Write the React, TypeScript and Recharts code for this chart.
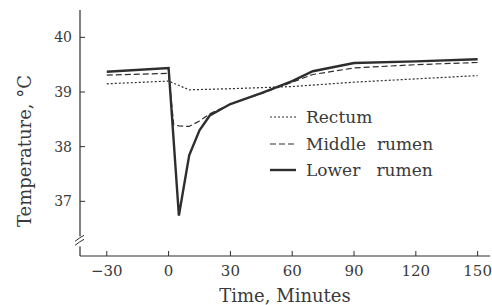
import React from "react";
import { LineChart, Line, XAxis, YAxis, Legend } from "recharts";

const times = [-30, 0, 2.5, 5, 10, 15, 20, 30, 45, 60, 70, 90, 120, 150];
const rectum = [39.15, 39.2, null, null, 39.04, null, null, 39.06, null, 39.1, null, 39.18, 39.24, 39.3];
const middleRumen = [39.31, 39.34, 38.4, 38.38, 38.37, 38.47, 38.6, 38.78, 38.97, 39.18, 39.32, 39.44, 39.5, 39.54];
const lowerRumen = [39.37, 39.44, null, 36.74, 37.84, 38.3, 38.57, 38.78, 38.98, 39.2, 39.38, 39.53, 39.56, 39.6];
const xTicks = [-30, 0, 30, 60, 90, 120, 150];
const yTicks = [36.25, 37, 38, 39, 40];
const BREAK_TICK = 36.25;

const data = times.map((t, i) => ({
  t,
  rectum: rectum[i],
  middle: middleRumen[i],
  lower: lowerRumen[i],
}));

const INK = "#2e2e2e";
const TEXT = "#3a3a3a";
const FONT = "'DejaVu Serif', 'Liberation Serif', serif";

const legendItems = [
  { label: "Rectum", dash: "2 2", width: 1.2 },
  { label: "Middle  rumen", dash: "6 3", width: 1.2 },
  { label: "Lower   rumen", dash: undefined, width: 2.4 },
];

const LegendContent = () => (
  <div style={{ fontFamily: FONT, fontSize: 17, color: TEXT }}>
    {legendItems.map((it) => (
      <div key={it.label} style={{ display: "flex", alignItems: "center", height: 26.5 }}>
        <svg width={36} height={10}>
          <line x1={0} y1={5} x2={26} y2={5} stroke={INK} strokeWidth={it.width} strokeDasharray={it.dash} />
        </svg>
        <span style={{ whiteSpace: "pre" }}>{it.label}</span>
      </div>
    ))}
  </div>
);

const YTick = (props: any) => {
  const { x, y, payload } = props;
  const ax = x + 8;
  if (payload.value === BREAK_TICK) {
    return (
      <g>
        <rect x={ax - 3} y={y - 6} width={6} height={10} fill="#fff" />
        <path d={`M${ax - 5} ${y - 1} Q${ax} ${y - 5} ${ax + 4} ${y - 7}`} stroke={INK} fill="none" strokeWidth={1} />
        <path d={`M${ax - 5} ${y + 3} Q${ax} ${y - 1} ${ax + 4} ${y - 3}`} stroke={INK} fill="none" strokeWidth={1} />
      </g>
    );
  }
  return (
    <g>
      <line x1={ax} y1={y} x2={ax + 5} y2={y} stroke={INK} strokeWidth={1} />
      <text x={x} y={y} dy="0.36em" textAnchor="end" fontFamily={FONT} fontSize={14} fill={TEXT}>
        {payload.value}
      </text>
    </g>
  );
};

const YTitle = (props: any) => {
  const vb = props.viewBox || { x: 20, y: 10, height: 246 };
  const cx = vb.x + 4;
  const cy = vb.y + vb.height / 2 + 18;
  return (
    <text
      x={cx}
      y={cy}
      transform={`rotate(-90, ${cx}, ${cy})`}
      textAnchor="middle"
      dominantBaseline="central"
      fontFamily={FONT}
      fontSize={18}
      fill={TEXT}
    >
      {"Temperature,  \u00B0C"}
    </text>
  );
};

export default function App() {
  return (
    <div style={{ position: "absolute", left: 0, top: 0, width: 492, height: 305, background: "#fff" }}>
      <LineChart width={492} height={305} data={data} margin={{ top: 10, right: 2, bottom: 9, left: 20 }}>
        <XAxis
          dataKey="t"
          type="number"
          domain={[-43, 156]}
          ticks={xTicks}
          allowDataOverflow
          height={40}
          tickSize={-5}
          tickMargin={14}
          tickFormatter={(v: number) => (v < 0 ? `\u2212${-v}` : `${v}`)}
          tick={{ fontFamily: FONT, fontSize: 15, fill: TEXT }}
          axisLine={{ stroke: INK, strokeWidth: 1.2 }}
          tickLine={{ stroke: INK }}
          label={{ value: "Time,  Minutes", position: "insideBottom", offset: -6, fontFamily: FONT, fontSize: 18, fill: TEXT }}
        />
        <YAxis
          type="number"
          domain={[36, 40.5]}
          ticks={yTicks}
          allowDataOverflow
          width={60}
          tickLine={false}
          tick={<YTick />}
          axisLine={{ stroke: INK, strokeWidth: 1.2 }}
          label={<YTitle />}
        />
        <Legend
          layout="vertical"
          verticalAlign="middle"
          align="center"
          content={<LegendContent />}
          wrapperStyle={{ left: 270, top: 104, width: 210 }}
        />
        <Line dataKey="rectum" stroke={INK} strokeWidth={1.2} strokeDasharray="2 2" dot={false} connectNulls isAnimationActive={false} />
        <Line dataKey="middle" stroke={INK} strokeWidth={1.2} strokeDasharray="6 3" dot={false} connectNulls isAnimationActive={false} />
        <Line dataKey="lower" stroke={INK} strokeWidth={2.4} dot={false} connectNulls isAnimationActive={false} />
      </LineChart>
    </div>
  );
}
